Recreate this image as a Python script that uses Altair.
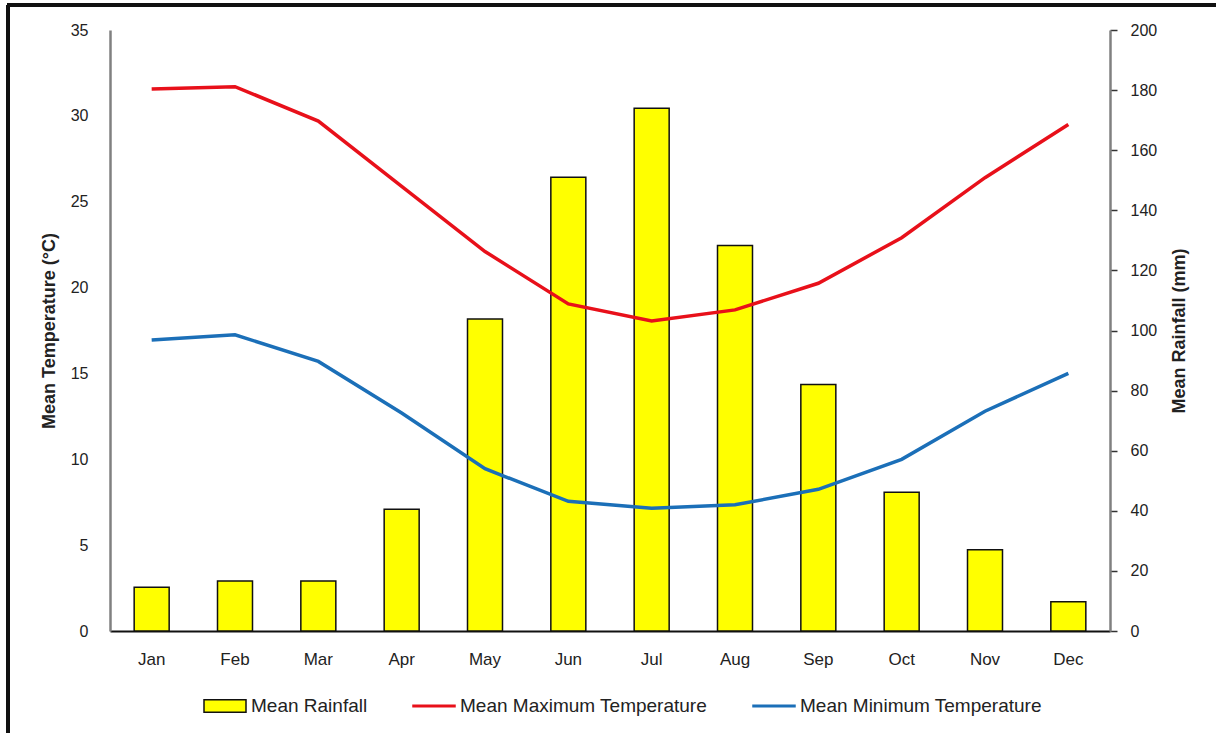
import altair as alt
import pandas as pd

months = ["Jan", "Feb", "Mar", "Apr", "May", "Jun", "Jul", "Aug", "Sep", "Oct", "Nov", "Dec"]
rainfall = [14.6, 16.6, 16.6, 40.5, 103.8, 151.0, 174.0, 128.3, 82.0, 46.2, 27.0, 9.7]
max_temp = [31.57, 31.7, 29.7, 25.9, 22.1, 19.05, 18.05, 18.7, 20.25, 22.9, 26.4, 29.5]
min_temp = [16.95, 17.25, 15.7, 12.7, 9.45, 7.55, 7.15, 7.35, 8.25, 10.0, 12.8, 15.0]
legend_labels = ["Mean Rainfall", "Mean Maximum Temperature", "Mean Minimum Temperature"]

df = pd.DataFrame({"month": months, "rain": rainfall, "tmax": max_temp, "tmin": min_temp})
lg = pd.DataFrame({"lg": legend_labels})

FONT = "Liberation Sans"
TXT = "#222222"
RED = "#E8101A"
BLUE = "#1B6FB8"
YELLOW = "#FFFF00"

x_enc = alt.X(
    "month:N", sort=months, title=None,
    scale=alt.Scale(paddingInner=0.58, paddingOuter=0.29),
    axis=alt.Axis(labelAngle=0, ticks=False, domainColor="#111111", domainWidth=2,
                  labelFontSize=17, labelColor=TXT, labelPadding=20, labelFont=FONT),
)

bars = alt.Chart(df).mark_bar(stroke="#111111", strokeWidth=1.5, fill=YELLOW).encode(
    x=x_enc,
    y=alt.Y("rain:Q", scale=alt.Scale(domain=[0, 200], nice=False),
            axis=alt.Axis(orient="right", values=list(range(0, 201, 20)), grid=False,
                          title="Mean Rainfall (mm)", titleAngle=270, titleBaseline="top",
                          titleFontSize=18, titleFontWeight="bold", titleColor=TXT, titleFont=FONT,
                          titlePadding=14, domainColor="#808080", domainWidth=2.5,
                          tickColor="#333333", tickSize=7, tickWidth=1.5,
                          labelFontSize=16, labelColor=TXT, labelPadding=13, labelFont=FONT)),
)

temp_axis = alt.Axis(orient="left", values=list(range(0, 36, 5)), grid=False,
                     title="Mean Temperature (°C)", titleFontSize=18, titleFontWeight="bold",
                     titleColor=TXT, titleFont=FONT, titlePadding=12,
                     domainColor="#808080", domainWidth=2.5, ticks=False,
                     labelFontSize=16, labelColor=TXT, labelPadding=22, labelFont=FONT)
temp_scale = alt.Scale(domain=[0, 35], nice=False)

line_max = alt.Chart(df).mark_line(color=RED, strokeWidth=3.5).encode(
    x=alt.X("month:N", sort=months),
    y=alt.Y("tmax:Q", scale=temp_scale, axis=temp_axis),
)
line_min = alt.Chart(df).mark_line(color=BLUE, strokeWidth=3.5).encode(
    x=alt.X("month:N", sort=months),
    y=alt.Y("tmin:Q", scale=temp_scale, axis=temp_axis),
)
temps = alt.layer(line_max, line_min)


def make_legend():
    return alt.Legend(title=None, orient="none", legendX=93, legendY=654,
                      direction="horizontal", columnPadding=42, labelOffset=4,
                      symbolSize=1764, symbolStrokeWidth=1.5, labelFontSize=19,
                      labelColor=TXT, labelFont=FONT, padding=0, labelLimit=0,
                      symbolOpacity=1)


legend_layer = alt.Chart(lg).mark_point(opacity=1, filled=True).encode(
    fill=alt.Fill("lg:N", scale=alt.Scale(domain=legend_labels, range=[YELLOW, RED, BLUE]),
                  legend=make_legend()),
    stroke=alt.Stroke("lg:N", scale=alt.Scale(domain=legend_labels, range=["#111111", RED, BLUE]),
                      legend=make_legend()),
    shape=alt.Shape("lg:N", scale=alt.Scale(domain=legend_labels,
                                            range=["M-1,-0.3H1V0.3H-1Z",
                                                   "M-1,-0.04H1V0.04H-1Z",
                                                   "M-1,-0.04H1V0.04H-1Z"]),
                    legend=make_legend()),
).transform_filter("false")

border_left = alt.Chart(df).mark_rule(color="#111111", strokeWidth=3).encode(
    x=alt.value(-102), y=alt.value(-25), y2=alt.value(720)
)
border_top = alt.Chart(df).mark_rule(color="#111111", strokeWidth=3).encode(
    x=alt.value(-103), x2=alt.value(1110), y=alt.value(-25)
)

chart = alt.layer(bars, temps, legend_layer, border_left, border_top).resolve_scale(
    y="independent"
).properties(
    width=1000, height=601,
    autosize=alt.AutoSizeParams(type="none"),
    padding={"left": 110, "top": 30, "right": 106, "bottom": 102},
    background="white",
).configure_view(stroke=None)

chart.save("out.html", embed_options={"renderer": "svg", "actions": False})
